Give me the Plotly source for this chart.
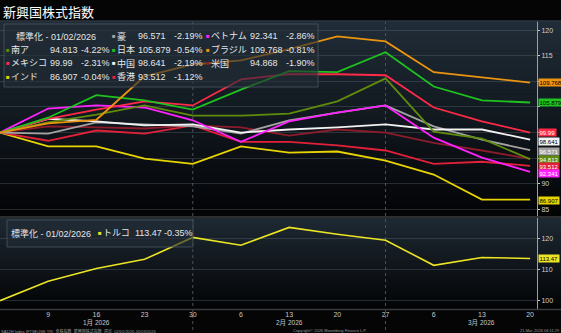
import plotly.graph_objects as go

W, H = 561, 333

# weekly closes, normalised to 100 on 01/02/2026
dates = ["2026-01-02", "2026-01-09", "2026-01-16", "2026-01-23", "2026-01-30", "2026-02-06",
         "2026-02-13", "2026-02-20", "2026-02-27", "2026-03-06", "2026-03-13", "2026-03-20"]

names = ["豪", "南ア", "メキシコ", "インド", "日本", "中国", "香港", "ベトナム", "ブラジル", "米国"]

au = [100, 99.8, 102.0, 101.6, 101.2, 99.8, 102.4, 103.9, 105.3, 101.2, 98.6, 96.571]
za = [100, 102.0, 103.5, 105.3, 103.3, 103.3, 103.7, 106.1, 110.6, 100.2, 98.8, 94.813]
mx = [100, 102.7, 104.5, 106.1, 105.3, 110.4, 111.4, 111.4, 111.2, 104.9, 102.2, 99.99]
india = [100, 97.3, 97.3, 94.9, 93.9, 97.3, 96.1, 96.3, 94.5, 91.8, 86.9, 86.907]
jp = [100, 102.9, 107.3, 106.3, 104.5, 108.4, 112.0, 111.8, 115.7, 109.0, 106.3, 105.879]
cn = [100, 102.7, 102.2, 101.4, 101.6, 100.0, 100.6, 101.0, 101.6, 100.6, 100.6, 98.641]
hk = [100, 98.4, 100.4, 99.8, 101.4, 98.2, 98.2, 97.5, 96.5, 93.9, 94.3, 93.512]
vn = [100, 104.7, 105.3, 104.9, 102.4, 98.2, 102.2, 103.9, 105.3, 99.0, 95.1, 92.341]
br = [100, 101.8, 102.5, 111.0, 113.3, 114.1, 116.3, 118.8, 117.8, 111.8, 110.8, 109.768]
us = [100, 101.2, 101.0, 100.8, 101.4, 101.0, 99.4, 100.6, 100.0, 98.0, 96.5, 94.868]
pct = [-2.19, -4.22, -2.31, -0.04, -0.54, -2.19, -1.12, -2.86, -0.81, -1.90]

tr_name = "トルコ"
tr = [100, 106.2, 110.3, 113.2, 120.2, 117.7, 123.4, 121.2, 119.3, 111.3, 113.8, 113.47]
tr_pct = -0.35

tick_dates = dates[1:]
tick_text = ["9", "16", "23", "30", "6", "13", "20", "27", "6", "13", "20"]
month_dates = ["2026-01-16", "2026-02-13", "2026-03-13"]
month_text = ["1月 2026", "2月 2026", "3月 2026"]
top_ticks = [85, 90, 95, 100, 105, 110, 115, 120]
top_tick_text = ["85", "90", "", "", "", "", "115", "120"]
bot_ticks = [100, 110, 120]
base_date = "01/02/2026"

series = [au, za, mx, india, jp, cn, hk, vn, br, us]
colors = ["#a3a3a3", "#5f8c0c", "#ff2a48", "#e8d400", "#1fc21f", "#f2f2f2",
          "#e3203a", "#ff22ff", "#eb9410", "#8c1c2c"]
tag_font = ["#ffffff", "#ffffff", "#ffffff", "#000000", "#000000", "#000000",
            "#ffffff", "#ffffff", "#000000", "#ffffff"]
tr_color = "#ece524"

FONT = "Liberation Sans Narrow, Liberation Sans, Noto Sans CJK JP, sans-serif"


def px(x):
    return x / W


def py(y):
    return 1 - y / H


PLOT_R = 537
TOP = (21, 216)
BOT = (218, 309)

fig = go.Figure()

# main panel
draw_order = [3, 6, 9, 0, 5, 7, 1, 2, 4, 8]
for i in draw_order:
    fig.add_trace(go.Scatter(x=dates, y=series[i], mode="lines", name=names[i],
                             line=dict(color=colors[i], width=1.8),
                             xaxis="x", yaxis="y", showlegend=False))
# lower panel
fig.add_trace(go.Scatter(x=dates, y=tr, mode="lines", name=tr_name,
                         line=dict(color=tr_color, width=1.6),
                         xaxis="x2", yaxis="y2", showlegend=False))

shapes = []


def gradient(y0, y1, c0, c1, n=40):
    step = (y1 - y0) / n
    for k in range(n):
        t = k / (n - 1)
        c = tuple(round(a + (b - a) * t) for a, b in zip(c0, c1))
        shapes.append(dict(type="rect", xref="paper", yref="paper", layer="below",
                           x0=0, x1=1, y0=py(y0 + (k + 1) * step + 0.5), y1=py(y0 + k * step),
                           fillcolor="rgb(%d,%d,%d)" % c, line=dict(width=0)))


gradient(TOP[0], TOP[1], (32, 44, 55), (3, 4, 6))
gradient(BOT[0], BOT[1], (30, 41, 51), (3, 4, 6))
# panel separators
for yline, col in [(TOP[0], "#2c3640"), (217, "#3d3d3d"), (BOT[1] + 0.5, "#3a3a3a")]:
    shapes.append(dict(type="line", xref="paper", yref="paper", layer="above",
                       x0=0, x1=1, y0=py(yline), y1=py(yline), line=dict(color=col, width=1.5)))
# month separators
for d in ["2026-01-30", "2026-02-27"]:
    shapes.append(dict(type="line", xref="x", yref="paper", layer="below",
                       x0=d, x1=d, y0=py(330), y1=py(TOP[0]),
                       line=dict(color="#4a525a", width=1, dash="dot")))
# legend boxes
shapes.append(dict(type="rect", xref="paper", yref="paper", layer="above",
                   x0=px(4), x1=px(318), y0=py(87), y1=py(24),
                   fillcolor="rgba(34,44,54,0.62)", line=dict(color="rgba(80,92,104,0.7)", width=1)))
shapes.append(dict(type="rect", xref="paper", yref="paper", layer="above",
                   x0=px(7), x1=px(193), y0=py(247), y1=py(220),
                   fillcolor="rgba(34,44,54,0.62)", line=dict(color="rgba(80,92,104,0.7)", width=1)))

ann = []


def text(x, y, s, size=9, color="#e6e6e6", xanchor="left", family=FONT):
    ann.append(dict(x=px(x), y=py(y), xref="paper", yref="paper", text=s, showarrow=False,
                    xanchor=xanchor, yanchor="middle", borderpad=0,
                    font=dict(size=size, color=color, family=family)))


# title bar
text(2, 11, "新興国株式指数", size=13, color="#ffffff",
     family="Noto Sans CJK JP, sans-serif")

# legend, top panel
LS = 9
rows = [36, 49.5, 63, 76.5]
cols = [(7, 12, 51, 82), (113, 118, 139, 175), (207, 212, 251, 287)]
slots = {0: (1, 0), 1: (0, 1), 2: (0, 2), 3: (0, 3), 4: (1, 1), 5: (1, 2), 6: (1, 3),
         7: (2, 0), 8: (2, 1), 9: (2, 2)}
text(15, rows[0], "標準化 - " + base_date, size=LS)
for i, (c, r) in slots.items():
    mx_, nx, vx, px_ = cols[c]
    y = rows[r]
    text(mx_ - 2, y, "■", size=6, color=colors[i])
    text(nx - 2, y, names[i], size=LS)
    text(vx - 2, y, "%g" % series[i][-1], size=LS)
    text(px_ - 2, y, "%.2f%%" % pct[i], size=LS)

# legend, lower panel
text(10, 233, "標準化 - " + base_date, size=LS)
text(97, 233, "■", size=6, color=tr_color)
text(102, 233, tr_name, size=LS)
text(134, 233, "%g" % tr[-1], size=LS)
text(163, 233, "%.2f%%" % tr_pct, size=LS)

# last-value tags on the right axis
shifts = {0: -1, 1: 0, 2: 0, 3: -1, 4: 0, 5: -1.5, 6: -1, 7: -2, 8: 0}
for i, sh in shifts.items():
    ann.append(dict(x=px(538), y=series[i][-1], xref="paper", yref="y", yshift=sh,
                    text="%g" % series[i][-1], showarrow=False, xanchor="left", yanchor="middle",
                    bgcolor=colors[i], borderpad=0.5,
                    font=dict(size=6, color=tag_font[i], family=FONT)))
ann.append(dict(x=px(538), y=tr[-1], xref="paper", yref="y2", text="%g" % tr[-1],
                showarrow=False, xanchor="left", yanchor="middle", bgcolor=tr_color, borderpad=0.5,
                font=dict(size=6, color="#000000", family=FONT)))

# month labels under the day ticks
for d, s in zip(month_dates, month_text):
    ann.append(dict(x=d, y=py(322.5), xref="x2", yref="paper", text=s, showarrow=False,
                    xanchor="center", yanchor="middle",
                    font=dict(size=6.5, color="#c8c8c8", family=FONT)))

# footer
text(0, 330.5, "SA12H Index (FTSE/JSE TR)  全株指数  新興国株式指数  週足  02/01/2026-20/03/2026",
     size=4, color="#9a9a9a")
text(330, 330.5, "Copyright© 2026 Bloomberg Finance L.P.", size=4, color="#9a9a9a", xanchor="center")
text(561, 330.5, "21-Mar-2026 06:11:29", size=4, color="#9a9a9a", xanchor="right")

xr = ["2026-01-02", "2026-03-21"]
grid = "rgba(120,132,144,0.28)"
yaxis_common = dict(side="right", showline=True, linecolor="#9aa0a6", linewidth=1,
                    ticks="outside", ticklen=2, tickcolor="#c8c8c8", gridcolor=grid,
                    gridwidth=1, zeroline=False, tickfont=dict(size=7, color="#cfcfcf", family=FONT),
                    fixedrange=True)

fig.update_layout(
    width=W, height=H, margin=dict(l=0, r=0, t=0, b=0),
    paper_bgcolor="#050505", plot_bgcolor="rgba(0,0,0,0)",
    showlegend=False, shapes=shapes, annotations=ann,
    font=dict(family=FONT),
    xaxis=dict(domain=[0, px(PLOT_R)], anchor="y", range=xr, showticklabels=False,
               showgrid=False, zeroline=False, ticks=""),
    yaxis=dict(domain=[py(TOP[1]), py(TOP[0])], anchor="x", range=[83.7, 121.8],
               tickvals=top_ticks, ticktext=top_tick_text, **yaxis_common),
    xaxis2=dict(domain=[0, px(PLOT_R)], anchor="y2", range=xr, tickvals=tick_dates,
                ticktext=tick_text, showgrid=False, zeroline=False, ticks="",
                tickfont=dict(size=7, color="#c8c8c8", family=FONT)),
    yaxis2=dict(domain=[py(BOT[1]), py(BOT[0])], anchor="x2", range=[97.35, 126.4],
                tickvals=bot_ticks, **yaxis_common),
)

fig.write_html("out.html")
